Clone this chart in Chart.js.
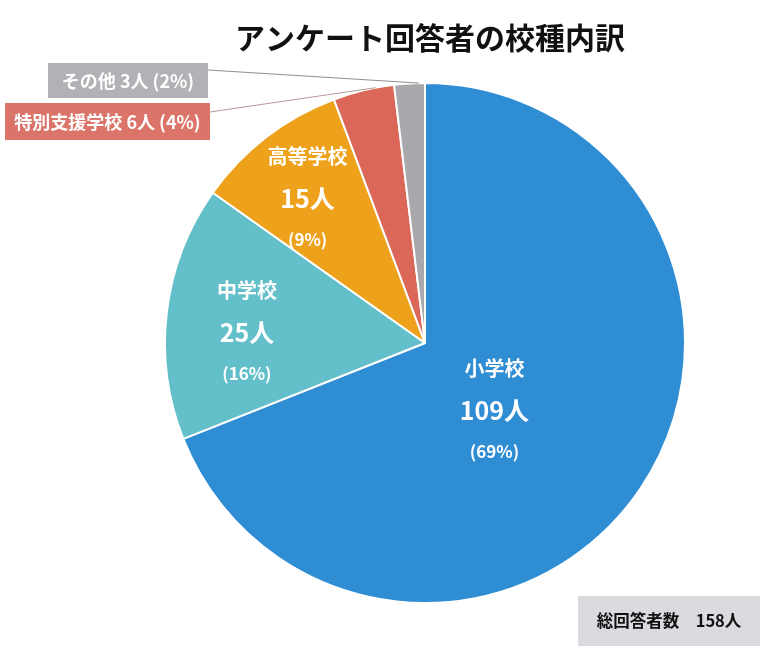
<!DOCTYPE html>
<html><head><meta charset="utf-8">
<script src="https://cdn.jsdelivr.net/npm/chart.js@4/dist/chart.umd.min.js"></script>
<style>html,body{margin:0;padding:0;background:#fff;}#wrap{width:768px;height:672px;}</style>
</head><body><div id="wrap"><canvas id="c" width="768" height="672"></canvas></div>
<script>
const titleText = 'アンケート回答者の校種内訳';
const categories = ['小学校', '中学校', '高等学校', '特別支援学校', 'その他'];
const counts = [109, 25, 15, 6, 3];
const colors = ['#2F8DD4', '#63BFC9', '#EEA11A', '#DA6757', '#A9A8AC'];
const boxColors = [null, null, null, '#DB756A', '#B2B1B5'];
const totalLabel = '総回答者数';
const unit = '人';
const FONT = '"Noto Sans CJK JP", "Noto Sans", sans-serif';

const total = counts.reduce((a, b) => a + b, 0);

// label placement (layout only)
const inside = {0: {frac: 0.36, dx: -8, dy: 15}, 1: {frac: 0.69, dx: 0, dy: 11}, 2: {frac: 0.74, dx: 0, dy: 8}};
const outside = {4: {x: 48, y: 63, w: 160, h: 35, lineY: 7, endFrac: 0.8}, 3: {x: 5, y: 103, w: 205, h: 37, lineY: 9, endFrac: 0.7}};

const labelPlugin = {
  id: 'labels',
  afterDraw(chart) {
    const ctx = chart.ctx;
    const meta = chart.getDatasetMeta(0);
    ctx.save();
    // title
    ctx.fillStyle = '#111';
    ctx.font = 'bold 30px ' + FONT;
    ctx.textAlign = 'center';
    ctx.textBaseline = 'middle';
    const cx0 = meta.data[0].x;
    ctx.fillText(titleText, cx0 + 5, 38);

    meta.data.forEach((arc, i) => {
      const mid = (arc.startAngle + arc.endAngle) / 2;
      const pct = Math.round(counts[i] / total * 100);
      if (inside[i]) {
        const p = inside[i];
        const r = arc.outerRadius * p.frac;
        const x = arc.x + Math.cos(mid) * r + p.dx;
        const y = arc.y + Math.sin(mid) * r + p.dy;
        ctx.fillStyle = '#fff';
        ctx.textAlign = 'center';
        ctx.textBaseline = 'middle';
        ctx.font = 'bold 20px ' + FONT;
        ctx.fillText(categories[i], x, y - 42);
        ctx.font = 'bold 25px ' + FONT;
        ctx.fillText(counts[i] + unit, x, y);
        ctx.font = 'bold 17px ' + FONT;
        ctx.fillText('(' + pct + '%)', x, y + 41);
      } else if (outside[i]) {
        const b = outside[i];
        const a = arc.startAngle + (arc.endAngle - arc.startAngle) * b.endFrac;
        const ex = arc.x + Math.cos(a) * arc.outerRadius;
        const ey = arc.y + Math.sin(a) * arc.outerRadius;
        ctx.strokeStyle = i === 4 ? '#8f8f8f' : '#b89a96';
        ctx.lineWidth = 1;
        ctx.beginPath();
        ctx.moveTo(b.x + b.w, b.y + b.lineY);
        ctx.lineTo(ex, ey);
        ctx.stroke();
        ctx.fillStyle = boxColors[i];
        ctx.fillRect(b.x, b.y, b.w, b.h);
        ctx.fillStyle = '#fff';
        ctx.font = 'bold 18px ' + FONT;
        ctx.textAlign = 'center';
        ctx.textBaseline = 'middle';
        ctx.fillText(categories[i] + ' ' + counts[i] + unit + ' (' + pct + '%)', b.x + b.w / 2, b.y + b.h / 2 + 1);
      }
    });

    // total box
    ctx.fillStyle = '#DCD9DF';
    ctx.fillRect(578, 596, 182, 50);
    ctx.fillStyle = '#111';
    ctx.font = 'bold 16.5px ' + FONT;
    ctx.textAlign = 'center';
    ctx.textBaseline = 'middle';
    ctx.fillText(totalLabel + '　' + total + unit, 669, 621);
    ctx.restore();
  }
};

new Chart(document.getElementById('c'), {
  type: 'pie',
  data: {
    labels: categories,
    datasets: [{
      data: counts,
      backgroundColor: colors,
      borderColor: '#fff',
      borderWidth: 2
    }]
  },
  options: {
    responsive: false,
    animation: false,
    radius: 260,
    layout: {padding: {left: 82, right: 0, top: 40, bottom: 26}},
    plugins: {legend: {display: false}, tooltip: {enabled: false}, title: {display: false}}
  },
  plugins: [labelPlugin]
});
</script>
</body></html>
